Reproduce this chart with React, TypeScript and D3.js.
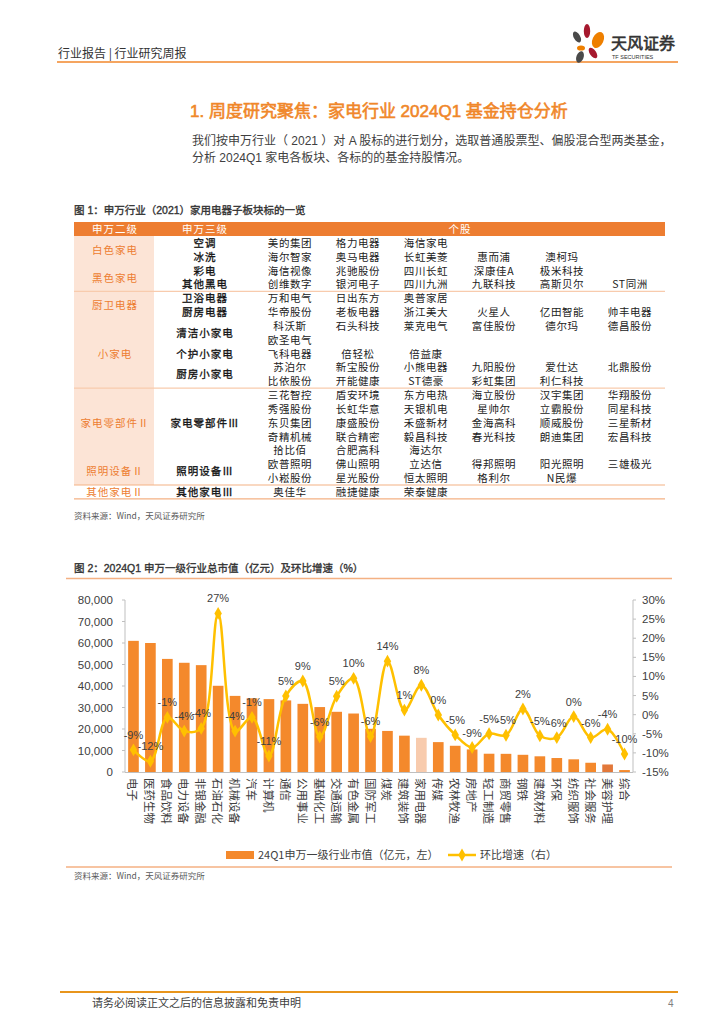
import React from 'react';
import * as d3 from 'd3';

// ---------- Chart data ----------
const categories = ['电子', '医药生物', '食品饮料', '电力设备', '非银金融', '石油石化', '机械设备', '汽车', '计算机', '通信', '公用事业', '基础化工', '交通运输', '有色金属', '国防军工', '煤炭', '建筑装饰', '家用电器', '传媒', '农林牧渔', '房地产', '轻工制造', '商贸零售', '钢铁', '建筑材料', '环保', '纺织服饰', '社会服务', '美容护理', '综合'];
const marketCap = [61000, 60000, 52600, 50800, 49700, 40100, 35400, 34300, 33900, 33300, 31700, 30200, 28000, 27200, 20100, 19100, 16900, 15900, 13900, 12200, 10500, 8500, 8450, 8000, 7300, 6500, 5900, 4300, 3500, 900];
const qoqGrowth = [-9.2, -12.2, -0.7, -4.3, -3.6, 26.5, -4.3, -0.7, -10.8, 4.9, 8.8, -5.8, 4.8, 9.5, -5.7, 14.0, 1.2, 7.7, -0.1, -5.3, -8.6, -5.0, -5.4, 1.5, -5.5, -6.0, -0.5, -6.0, -3.8, -10.3];
const leftTicks = [0, 10000, 20000, 30000, 40000, 50000, 60000, 70000, 80000];
const rightTicks = [-15, -10, -5, 0, 5, 10, 15, 20, 25, 30];
const highlightCategory = '家用电器';
const darkCategory = '美容护理';
const legendBar = '24Q1申万一级行业市值（亿元，左）';
const legendLine = '环比增速（右）';

// ---------- Table data ----------
const tableStocks: string[][] = [
  ['美的集团', '格力电器', '海信家电'],
  ['海尔智家', '奥马电器', '长虹美菱', '惠而浦', '澳柯玛'],
  ['海信视像', '兆驰股份', '四川长虹', '深康佳A', '极米科技'],
  ['创维数字', '银河电子', '四川九洲', '九联科技', '高斯贝尔', 'ST同洲'],
  ['万和电气', '日出东方', '奥普家居'],
  ['华帝股份', '老板电器', '浙江美大', '火星人', '亿田智能', '帅丰电器'],
  ['科沃斯', '石头科技', '莱克电气', '富佳股份', '德尔玛', '德昌股份'],
  ['欧圣电气'],
  ['飞科电器', '倍轻松', '倍益康'],
  ['苏泊尔', '新宝股份', '小熊电器', '九阳股份', '爱仕达', '北鼎股份'],
  ['比依股份', '开能健康', 'ST德豪', '彩虹集团', '利仁科技'],
  ['三花智控', '盾安环境', '东方电热', '海立股份', '汉宇集团', '华翔股份'],
  ['秀强股份', '长虹华意', '天银机电', '星帅尔', '立霸股份', '同星科技'],
  ['东贝集团', '康盛股份', '禾盛新材', '金海高科', '顺威股份', '三星新材'],
  ['奇精机械', '联合精密', '毅昌科技', '春光科技', '朗迪集团', '宏昌科技'],
  ['拾比佰', '合肥高科', '海达尔'],
  ['欧普照明', '佛山照明', '立达信', '得邦照明', '阳光照明', '三雄极光'],
  ['小崧股份', '星光股份', '恒太照明', '格利尔', 'N民爆'],
  ['奥佳华', '融捷健康', '荣泰健康'],
];
const level3Names = ['空调', '冰洗', '彩电', '其他黑电', '卫浴电器', '厨房电器', '清洁小家电', '个护小家电', '厨房小家电', '家电零部件Ⅲ', '照明设备Ⅲ', '其他家电Ⅲ'];
const level3Spans = [[0, 0], [1, 1], [2, 2], [3, 3], [4, 4], [5, 5], [6, 7], [8, 8], [9, 10], [11, 15], [16, 17], [18, 18]];
const level2Names = ['白色家电', '黑色家电', '厨卫电器', '小家电', '家电零部件Ⅱ', '照明设备Ⅱ', '其他家电Ⅱ'];
const level2Spans = [[0, 1], [2, 3], [4, 5], [6, 10], [11, 15], [16, 17], [18, 18]];
const lightSeparators = [3, 10];
const strongSeparators = [17, 18];

const ORANGE = '#ED7D31';
const TEXT = '#404040';
const CJK = "'Noto Sans CJK SC', sans-serif";
const LAT = "'Liberation Sans', 'Noto Sans CJK SC', sans-serif";

function Logo() {
  return (
    <g>
      <ellipse cx={577} cy={37} rx={3.2} ry={6} fill="#4a4a4a" transform="rotate(-30 577 37)" />
      <ellipse cx={587} cy={31} rx={3.2} ry={7} fill="#A6192E" />
      <ellipse cx={598} cy={40} rx={5.5} ry={8.5} fill="#EE7F00" transform="rotate(25 598 40)" />
      <ellipse cx={581} cy={48} rx={4} ry={2.6} fill="#EE7F00" />
      <ellipse cx={593} cy={53} rx={3.2} ry={6} fill="#A6192E" transform="rotate(-35 593 53)" />
      <ellipse cx={580} cy={57} rx={3.6} ry={6} fill="#4a4a4a" transform="rotate(20 580 57)" />
      <text x={611} y={49} fontFamily={CJK} fontSize={16} fill="#333" stroke="#333" strokeWidth={0.6}>天风证券</text>
      <text x={612} y={59} fontFamily={LAT} fontSize={5.5} fill="#333">TF SECURITIES</text>
    </g>
  );
}

function Table() {
  const x0 = 74, x1 = 665, colL2 = 154;
  const rowY = (i: number) => 243 + i * 13.83;
  const stockX = (j: number) => 290 + j * 68;
  const fs = 10.5;
  return (
    <g fontFamily={CJK}>
      <text x={74} y={214} fontFamily={LAT} fontSize={10.5} fill="#333" stroke="#333" strokeWidth={0.35}>图 1：申万行业（2021）家用电器子板块标的一览</text>
      <rect x={x0} y={222} width={x1 - x0} height={14} fill={ORANGE} />
      <text x={115} y={233} fontSize={fs} fill="#fff" textAnchor="middle" letterSpacing={1}>申万二级</text>
      <text x={205} y={233} fontSize={fs} fill="#fff" textAnchor="middle" letterSpacing={1}>申万三级</text>
      <text x={460} y={233} fontSize={fs} fill="#fff" textAnchor="middle" letterSpacing={1}>个股</text>
      <rect x={x0} y={236} width={colL2 - x0} height={rowY(17) + 6.9 - 236} fill="#FCE4D6" />
      {lightSeparators.map((r) => (
        <line key={'ls' + r} x1={x0} x2={x1} y1={rowY(r) + 6.9} y2={rowY(r) + 6.9} stroke="#F8CBAD" strokeWidth={1.2} />
      ))}
      {strongSeparators.map((r) => (
        <line key={'ss' + r} x1={x0} x2={x1} y1={rowY(r) + 6.9} y2={rowY(r) + 6.9} stroke="#F4B183" strokeWidth={1.2} />
      ))}
      {level2Names.map((n, i) => {
        const [a, b] = level2Spans[i];
        const y = (rowY(a) + rowY(b)) / 2 + 4;
        return <text key={n} x={115} y={y} fontSize={fs} fill={ORANGE} textAnchor="middle" letterSpacing={1}>{n}</text>;
      })}
      {level3Names.map((n, i) => {
        const [a, b] = level3Spans[i];
        const y = (rowY(a) + rowY(b)) / 2 + 4;
        return <text key={n} x={205} y={y} fontSize={fs} fill="#111" stroke="#111" strokeWidth={0.3} textAnchor="middle" letterSpacing={1}>{n}</text>;
      })}
      {tableStocks.map((row, i) => row.map((s, j) => (
        <text key={i + '-' + j} x={stockX(j)} y={rowY(i) + 4} fontSize={fs} fill="#222" textAnchor="middle" letterSpacing={0.6}>{s}</text>
      )))}
      <text x={74} y={519} fontSize={8.5} fill="#595959">资料来源：Wind，天风证券研究所</text>
    </g>
  );
}

function Chart() {
  const x = d3.scaleBand<string>().domain(categories).range([125, 633]).paddingInner(0.37).paddingOuter(0.185);
  const yL = d3.scaleLinear().domain([0, 80000]).range([772, 600]);
  const yR = d3.scaleLinear().domain([-15, 30]).range([772, 600]);
  const cx = (c: string) => (x(c) as number) + x.bandwidth() / 2;
  const pts: [number, number][] = categories.map((c, i) => [cx(c), yR(qoqGrowth[i])]);
  const line = d3.line().curve(d3.curveCatmullRom.alpha(0.5))(pts) as string;
  const diamond = d3.symbol().type(d3.symbolDiamond).size(48)() as string;
  const fmt = d3.format(',');
  const barColor = (c: string) => (c === highlightCategory ? '#F8CBAD' : c === darkCategory ? '#E2783A' : '#F4892C');
  return (
    <g fontFamily={LAT}>
      <text x={74} y={572} fontSize={10.5} fill="#333" stroke="#333" strokeWidth={0.35}>图 2：2024Q1 申万一级行业总市值（亿元）及环比增速（%）</text>
      <line x1={66} x2={672} y1={578.5} y2={578.5} stroke="#F4B183" strokeWidth={1.5} />
      <line x1={125} x2={125} y1={600} y2={772} stroke="#BFBFBF" />
      {leftTicks.map((t) => (
        <g key={'l' + t}>
          <line x1={122} x2={125} y1={yL(t)} y2={yL(t)} stroke="#BFBFBF" />
          <text x={113} y={yL(t) + 4} fontSize={11.5} fill={TEXT} textAnchor="end">{fmt(t)}</text>
        </g>
      ))}
      <line x1={633} x2={633} y1={600} y2={772} stroke="#BFBFBF" />
      {rightTicks.map((t) => (
        <g key={'r' + t}>
          <line x1={633} x2={636} y1={yR(t)} y2={yR(t)} stroke="#BFBFBF" />
          <text x={642} y={yR(t) + 4} fontSize={11.5} fill={TEXT}>{t + '%'}</text>
        </g>
      ))}
      {categories.map((c, i) => (
        <rect key={'b' + c} x={x(c)} y={yL(marketCap[i])} width={x.bandwidth()} height={772 - yL(marketCap[i])} fill={barColor(c)} />
      ))}
      <line x1={125} x2={633} y1={772.5} y2={772.5} stroke="#BFBFBF" />
      <path d={line} fill="none" stroke="#FFC000" strokeWidth={2.5} />
      {pts.map((p, i) => (
        <path key={'m' + i} d={diamond} transform={`translate(${p[0]},${p[1]})`} fill="#FFC000" />
      ))}
      {pts.map((p, i) => (
        <text key={'dl' + i} x={p[0]} y={p[1] - 11} fontSize={11} fill={TEXT} textAnchor="middle">{Math.round(qoqGrowth[i]) + '%'}</text>
      ))}
      {categories.map((c) => (
        <text key={'xl' + c} transform={`translate(${cx(c)},778) rotate(90)`} fontFamily={CJK} fontSize={11.5} fill={TEXT} dominantBaseline="central">{c}</text>
      ))}
      <rect x={226} y={851} width={28} height={8} fill="#F4892C" />
      <text x={258} y={859} fontFamily={CJK} fontSize={11} fill={TEXT}>{legendBar}</text>
      <line x1={448} x2={476} y1={855} y2={855} stroke="#FFC000" strokeWidth={2.5} />
      <path d={diamond} transform="translate(462,855)" fill="#FFC000" />
      <text x={480} y={859} fontFamily={CJK} fontSize={11} fill={TEXT}>{legendLine}</text>
      <line x1={66} x2={672} y1={867} y2={867} stroke="#F4B183" strokeWidth={1.5} />
      <text x={74} y={879} fontFamily={CJK} fontSize={8.5} fill="#595959">资料来源：Wind，天风证券研究所</text>
    </g>
  );
}

export default function App() {
  return (
    <svg width={724} height={1024} style={{ position: 'absolute', left: 0, top: 0, background: '#fff' }}>
      <rect width={724} height={1024} fill="#fff" />
      <text x={58} y={58} fontFamily={CJK} fontSize={12} fill="#333">行业报告 | 行业研究周报</text>
      <line x1={57} x2={678} y1={62} y2={62} stroke="#F5A560" strokeWidth={2} />
      <Logo />
      <text x={190} y={117} fontFamily={LAT} fontSize={17} fill="#F0872A" stroke="#F0872A" strokeWidth={0.6}>1. 周度研究聚焦：家电行业 2024Q1 基金持仓分析</text>
      <text x={192} y={145} fontFamily={LAT} fontSize={12} fill={TEXT}>我们按申万行业（ 2021 ）对 A 股标的进行划分，选取普通股票型、偏股混合型两类基金，</text>
      <text x={192} y={162} fontFamily={LAT} fontSize={12} fill={TEXT}>分析 2024Q1 家电各板块、各标的的基金持股情况。</text>
      <Table />
      <Chart />
      <line x1={60} x2={678} y1={992} y2={992} stroke="#E8951C" strokeWidth={2} />
      <text x={92} y={1007} fontFamily={CJK} fontSize={11} fill={TEXT}>请务必阅读正文之后的信息披露和免责申明</text>
      <text x={668} y={1007} fontFamily={LAT} fontSize={10} fill="#808080">4</text>
    </svg>
  );
}
